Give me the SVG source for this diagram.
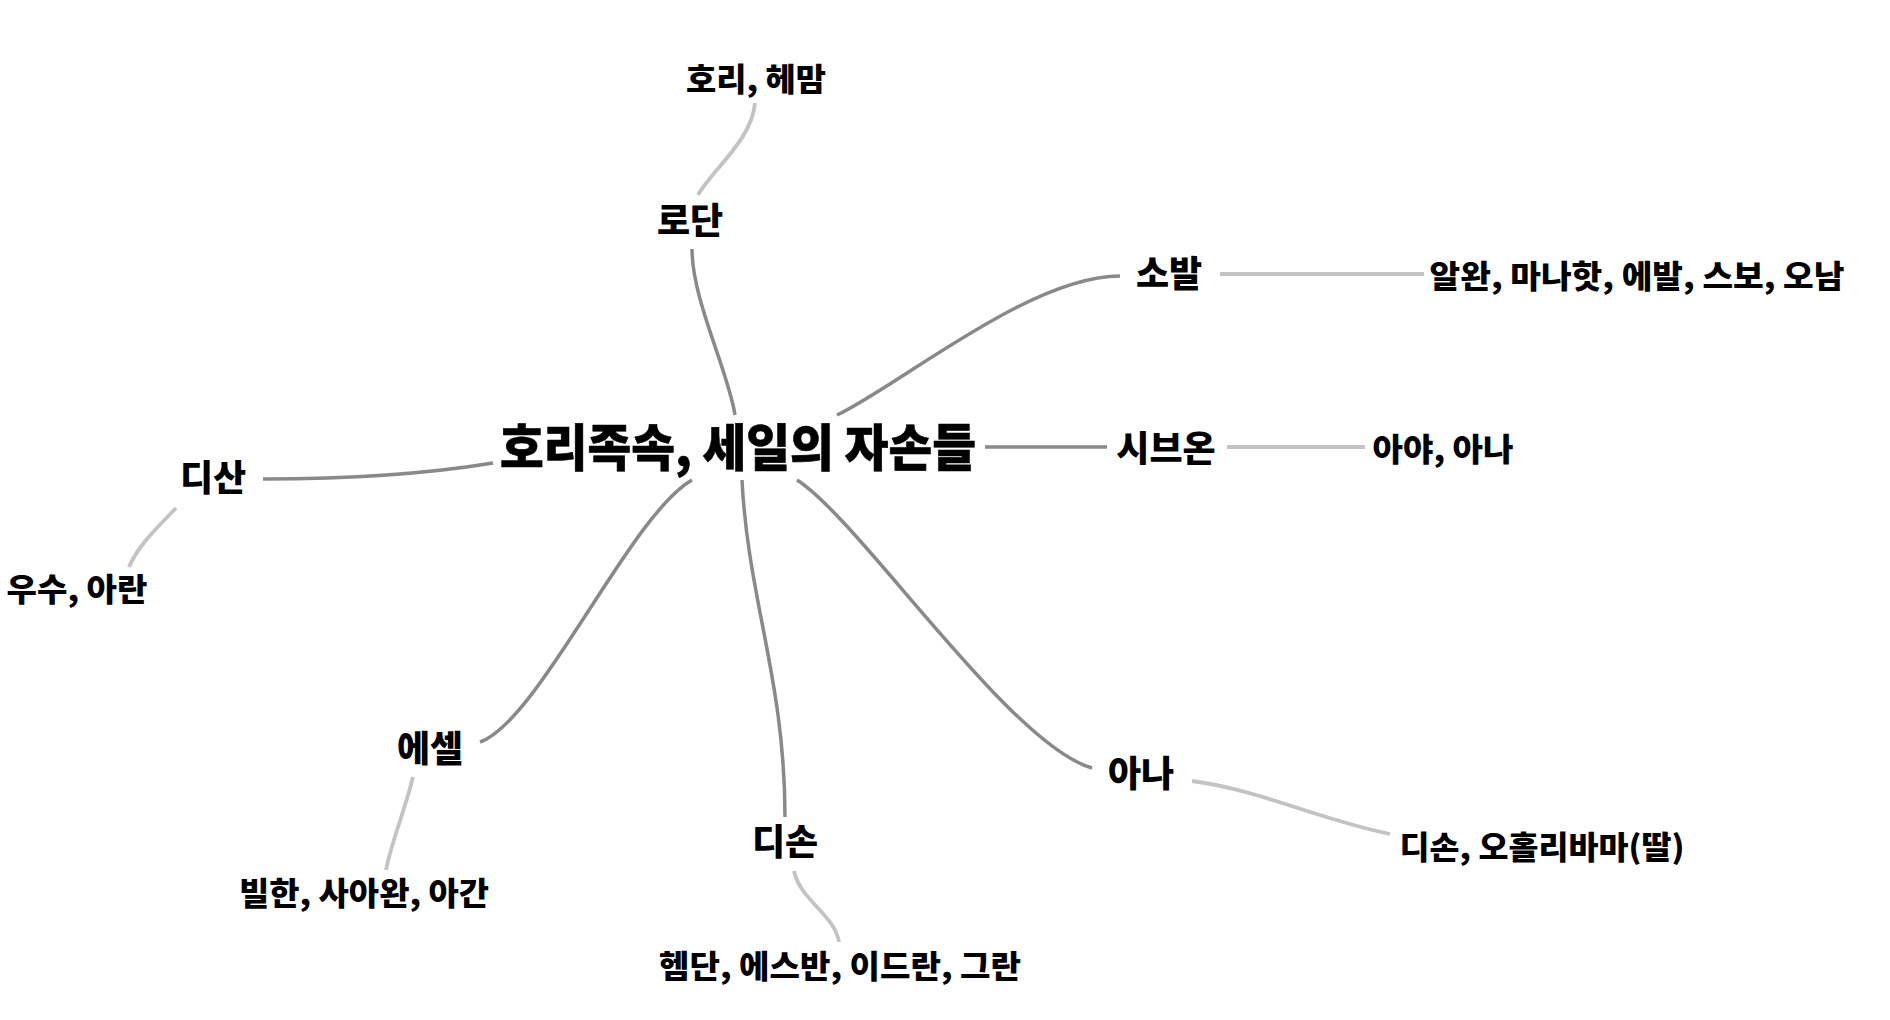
<svg xmlns="http://www.w3.org/2000/svg" width="1890" height="1020" viewBox="0 0 1890 1020">
<style>
text{font-family:"Noto Sans CJK KR","Noto Sans CJK SC",sans-serif;font-weight:900;fill:#000;text-anchor:middle;dominant-baseline:central}
.root{font-size:50px;stroke:#000;stroke-width:0.6px}
.l1{font-size:36px}
.l2{font-size:31.5px}
.e1{fill:none;stroke:#898989;stroke-width:3.5}
.e2{fill:none;stroke:#c3c3c3;stroke-width:3.8}
</style>
<rect width="1890" height="1020" fill="#fff"/>
<g id="connectors">
<path class="e1" d="M735,415 C728,370 692,300 692,249"/>
<path class="e1" d="M837,415 C900,385 1030,276 1120,276"/>
<path class="e1" d="M985,447 L1107,447"/>
<path class="e1" d="M797,480 C860,520 1010,745 1092,768"/>
<path class="e1" d="M742,480 C748,600 785,680 785,817"/>
<path class="e1" d="M692,480 C630,515 540,720 480,742"/>
<path class="e1" d="M493,463 C420,475 340,479 263,479"/>
<path class="e2" d="M698,195 C712,170 752,140 755,103"/>
<path class="e2" d="M176,508 C160,525 138,545 129,567"/>
<path class="e2" d="M413,777 C405,810 392,840 386,870"/>
<path class="e2" d="M794,871 C800,900 835,915 839,942"/>
<path class="e2" d="M1220,274 L1424,274"/>
<path class="e2" d="M1227,447 L1365,447"/>
<path class="e2" d="M1192,781 C1260,790 1320,820 1390,834"/>
</g>
<g id="node-root"><text class="root" x="738" y="444" textLength="476" lengthAdjust="spacingAndGlyphs">호리족속, 세일의 자손들</text></g>
<g id="node-rodan"><text class="l1" x="690" y="218">로단</text></g>
<g id="node-hori"><text class="l2" x="756" y="77" textLength="140" lengthAdjust="spacingAndGlyphs">호리, 헤맘</text></g>
<g id="node-sobal"><text class="l1" x="1169" y="271">소발</text></g>
<g id="node-alwan"><text class="l2" x="1637" y="274" textLength="415" lengthAdjust="spacingAndGlyphs">알완, 마나핫, 에발, 스보, 오남</text></g>
<g id="node-sibon"><text class="l1" x="1166" y="446">시브온</text></g>
<g id="node-aya"><text class="l2" x="1443" y="447" textLength="141" lengthAdjust="spacingAndGlyphs">아야, 아나</text></g>
<g id="node-disan"><text class="l1" x="213" y="475">디산</text></g>
<g id="node-usu"><text class="l2" x="77" y="587" textLength="141" lengthAdjust="spacingAndGlyphs">우수, 아란</text></g>
<g id="node-esel"><text class="l1" x="430" y="746">에셀</text></g>
<g id="node-bilhan"><text class="l2" x="364" y="891" textLength="250" lengthAdjust="spacingAndGlyphs">빌한, 사아완, 아간</text></g>
<g id="node-dison"><text class="l1" x="785" y="839">디손</text></g>
<g id="node-hemdan"><text class="l2" x="840" y="964" textLength="362" lengthAdjust="spacingAndGlyphs">헴단, 에스반, 이드란, 그란</text></g>
<g id="node-ana"><text class="l1" x="1141" y="771">아나</text></g>
<g id="node-dison2"><text class="l2" x="1542" y="845" textLength="285" lengthAdjust="spacingAndGlyphs">디손, 오홀리바마(딸)</text></g>
</svg>
